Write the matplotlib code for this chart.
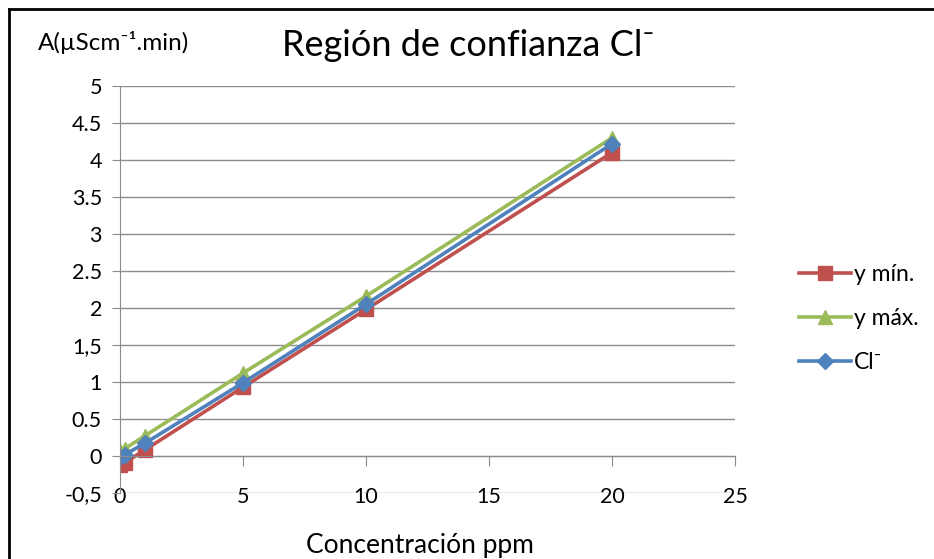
import matplotlib.pyplot as plt
from matplotlib.lines import Line2D

conc = [0, 0.2, 1, 5, 10, 20]
y_min = [-0.12, -0.09, 0.08, 0.93, 1.98, 4.10]
y_max = [0.07, 0.10, 0.27, 1.12, 2.16, 4.30]
cl = [-0.02, 0.02, 0.17, 0.99, 2.05, 4.22]

y_ticks = [-0.5, 0, 0.5, 1, 1.5, 2, 2.5, 3, 3.5, 4, 4.5, 5]
y_tick_labels = ['-0,5', '0', '0.5', '1', '1,5', '2', '2.5', '3', '3.5', '4', '4.5', '5']
x_ticks = [0, 5, 10, 15, 20, 25]

plt.rcParams['font.family'] = ['Lato', 'DejaVu Sans']

fig = plt.figure(figsize=(9.34, 5.59), dpi=100)
ax = fig.add_axes([120 / 934, 1 - 493 / 559, 615 / 934, 407 / 559])

red = '#C0504D'
green = '#9BBB59'
blue = '#4F81BD'

ax.plot(conc, y_min, color=red, lw=2.6, marker='s', ms=10, label='y mín.')
ax.plot(conc, y_max, color=green, lw=2.6, marker='^', ms=10, label='y máx.')
ax.plot(conc, cl, color=blue, lw=2.6, marker='D', ms=8.5, label='Cl\u207B')

ax.set_xlim(0, 25)
ax.set_ylim(-0.5, 5)
ax.set_yticks(y_ticks)
ax.set_yticklabels(y_tick_labels)
ax.set_xticks(x_ticks)
ax.grid(axis='y', color='#8c8c8c', lw=1)
ax.set_axisbelow(True)

for s in ['top', 'right']:
    ax.spines[s].set_visible(False)
ax.spines['left'].set_color('#8c8c8c')
ax.spines['bottom'].set_color('#8c8c8c')
ax.spines['bottom'].set_position(('data', 0))
ax.tick_params(axis='y', length=6, color='#8c8c8c', labelsize=15.5, pad=7)
ax.tick_params(axis='x', length=7, color='#8c8c8c', labelsize=15.5, pad=15)

fig.text(468 / 934, 1 - 45 / 559, 'Región de confianza Cl\u207B', ha='center', va='center',
         fontsize=26)
fig.text(38 / 934, 1 - 42 / 559, 'A(µScm\u207B\u00B9.min)', ha='left', va='center', fontsize=17.5)
fig.text(420 / 934, 1 - 546 / 559, 'Concentración ppm', ha='center', va='center', fontsize=19)

leg = ax.legend(loc='upper left', bbox_to_anchor=(778 / 934, 1 - 243 / 559),
                bbox_transform=fig.transFigure, frameon=False, fontsize=16.5,
                handlelength=2.3, handletextpad=0.1, labelspacing=1.02)

# chart frame (top and left edges visible in the crop)
fig.add_artist(Line2D([9 / 934, 1], [1 - 9 / 559, 1 - 9 / 559], color='black', lw=2))
fig.add_artist(Line2D([9 / 934, 9 / 934], [0, 1 - 9 / 559], color='black', lw=2))

fig.savefig('out.png', dpi=100)
